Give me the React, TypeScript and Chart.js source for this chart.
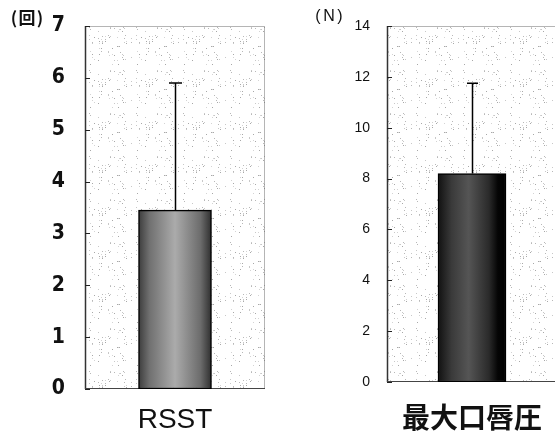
import React, { useEffect, useRef } from "react";
import { Chart, registerables } from "chart.js";

Chart.register(...registerables);

// ---- data ----
const leftCategories = ["RSST"];
const leftMeans = [3.45];
const leftSD = [2.45];
const leftUnit = ["(", "回", ")"];
const leftMax = 7;
const leftStep = 1;

const rightCategories = ["最大口唇圧"];
const rightMeans = [8.2];
const rightSD = [3.55];
const rightUnit = ["(", "N", ")"];
const rightMax = 14;
const rightStep = 2;

const NUM_FONT = "'Liberation Sans Narrow', 'DejaVu Sans Condensed', 'Liberation Sans', Arial, sans-serif";
const SANS = "'Liberation Sans', Arial, sans-serif";
const CJK = "'Noto Sans CJK JP', 'Noto Sans CJK SC', sans-serif";

let patternCache: CanvasPattern | null = null;
function getPattern(ctx: CanvasRenderingContext2D) {
  if (patternCache) return patternCache;
  const W = 47;
  const H = 43;
  const c = document.createElement("canvas");
  c.width = W;
  c.height = H;
  const p = c.getContext("2d")!;
  p.fillStyle = "#ffffff";
  p.fillRect(0, 0, W, H);
  const shades = ["#a8a8a8", "#c8c8c8", "#b8b8b8", "#d4d4d4"];
  for (let i = 0; i < 70; i++) {
    const x = (i * 37 + i * i * 13 + 5) % W;
    const y = (i * 23 + i * i * 7 + 11) % H;
    p.fillStyle = shades[(i * 5) % 4];
    p.fillRect(x, y, 1, 1);
  }
  patternCache = ctx.createPattern(c, "repeat");
  return patternCache;
}

const decorPlugin = {
  id: "decor",
  beforeDatasetsDraw(chart: any) {
    const { ctx, chartArea: a } = chart;
    ctx.save();
    ctx.fillStyle = getPattern(ctx) || "#fafafa";
    ctx.fillRect(a.left, a.top, a.right - a.left, a.bottom - a.top);
    // dotted frame
    ctx.strokeStyle = "#6a6a6a";
    ctx.lineWidth = 1;
    ctx.setLineDash([1, 1]);
    ctx.strokeRect(a.left + 0.5, a.top + 0.5, a.right - a.left - 1, a.bottom - a.top - 1);
    ctx.setLineDash([]);
    ctx.strokeStyle = "#333";
    ctx.lineWidth = 1.5;
    ctx.beginPath();
    ctx.moveTo(a.left + 0.5, a.top);
    ctx.lineTo(a.left + 0.5, a.bottom);
    ctx.stroke();
    ctx.strokeStyle = "#444";
    ctx.lineWidth = 1.2;
    ctx.beginPath();
    ctx.moveTo(a.left, a.bottom - 0.5);
    ctx.lineTo(a.right, a.bottom - 0.5);
    ctx.stroke();
    // inward ticks
    const ys = chart.scales.y;
    ctx.strokeStyle = "#222";
    ctx.lineWidth = 1;
    ys.ticks.forEach((t: any) => {
      const py = Math.round(ys.getPixelForValue(t.value)) + 0.5;
      ctx.beginPath();
      ctx.moveTo(a.left, py);
      ctx.lineTo(a.left + 5, py);
      ctx.stroke();
    });
    ctx.restore();
  },
  afterDatasetsDraw(chart: any) {
    const { ctx } = chart;
    const opts = chart.options.plugins.decor;
    const ys = chart.scales.y;
    const meta = chart.getDatasetMeta(0);
    ctx.save();
    ctx.strokeStyle = "#000";
    ctx.lineWidth = 1.5;
    meta.data.forEach((bar: any, i: number) => {
      const top = ys.getPixelForValue(opts.means[i] + opts.sd[i]);
      const x = Math.round(bar.x) + 0.5;
      ctx.beginPath();
      ctx.moveTo(x, bar.y);
      ctx.lineTo(x, top);
      ctx.moveTo(x - opts.cap / 2, top);
      ctx.lineTo(x + opts.cap / 2, top);
      ctx.stroke();
    });
    // unit label, drawn piece by piece
    ctx.fillStyle = "#111";
    ctx.font = opts.unitFont;
    ctx.textAlign = "center";
    ctx.textBaseline = "middle";
    opts.unit.forEach((s: string, i: number) => {
      ctx.fillText(s, opts.unitXs[i], opts.unitY);
    });
    ctx.restore();
  },
};

function makeGradient(stops: [number, string][], thickness: number) {
  return (context: any) => {
    const chart = context.chart;
    const xs = chart.scales && chart.scales.x;
    if (!chart.chartArea || !xs) return stops[2][1];
    const cx = xs.getPixelForValue(context.dataIndex ?? 0);
    if (!isFinite(cx)) return stops[2][1];
    const half = thickness / 2;
    const g = chart.ctx.createLinearGradient(cx - half, 0, cx + half, 0);
    stops.forEach(([o, c]) => g.addColorStop(o, c));
    return g;
  };
}

function buildConfig(p: any) {
  return {
    type: "bar",
    data: {
      labels: p.labels,
      datasets: [
        {
          data: p.means,
          backgroundColor: makeGradient(p.stops, p.barThickness),
          borderColor: "#000",
          borderWidth: 1.5,
          borderSkipped: false,
          barThickness: p.barThickness,
        },
      ],
    },
    options: {
      responsive: false,
      animation: false,
      devicePixelRatio: 1,
      layout: { padding: { top: 26, right: p.padRight, left: 0, bottom: 0 } },
      plugins: {
        legend: { display: false },
        tooltip: { enabled: false },
        decor: {
          means: p.means,
          sd: p.sd,
          cap: p.cap,
          unit: p.unit,
          unitFont: p.unitFont,
          unitXs: p.unitXs,
          unitY: p.unitY,
        },
      },
      scales: {
        x: {
          grid: { display: false, drawTicks: false },
          border: { display: false },
          ticks: { color: "#111", font: p.catFont, padding: p.catPad, maxRotation: 0 },
          afterFit: (s: any) => {
            s.height = p.xHeight;
            s.paddingLeft = 0;
            s.paddingRight = 0;
          },
        },
        y: {
          min: 0,
          max: p.max,
          grid: { display: false, drawTicks: false },
          border: { display: false },
          ticks: { stepSize: p.step, color: "#111", font: p.numFont, padding: p.numPad },
          afterFit: (s: any) => {
            s.width = p.yWidth;
            s.paddingTop = 0;
            s.paddingBottom = 0;
          },
        },
      },
    },
    plugins: [decorPlugin],
  };
}

function BarChart({ cfg, width, height }: any) {
  const ref = useRef<HTMLCanvasElement>(null);
  useEffect(() => {
    const chart = new Chart(ref.current as HTMLCanvasElement, buildConfig(cfg) as any);
    return () => chart.destroy();
  }, []);
  return <canvas ref={ref} width={width} height={height} style={{ width, height, display: "block" }} />;
}

export default function App() {
  const leftCfg = {
    labels: leftCategories,
    means: leftMeans,
    sd: leftSD,
    max: leftMax,
    step: leftStep,
    unit: leftUnit,
    unitFont: `bold 17px ${CJK}`,
    unitXs: [14, 27, 40],
    unitY: 18,
    stops: [
      [0, "#3c3c3c"],
      [0.15, "#707070"],
      [0.5, "#ababab"],
      [0.85, "#6c6c6c"],
      [1, "#2e2e2e"],
    ],
    barThickness: 73,
    cap: 13,
    padRight: 15,
    xHeight: 47,
    yWidth: 85,
    numFont: { family: NUM_FONT, size: 21, weight: "bold" },
    numPad: 20,
    catFont: { family: SANS, size: 28, weight: "normal" },
    catPad: 14,
  };
  const rightCfg = {
    labels: rightCategories,
    means: rightMeans,
    sd: rightSD,
    max: rightMax,
    step: rightStep,
    unit: rightUnit,
    unitFont: `16px ${SANS}`,
    unitXs: [38, 49, 60],
    unitY: 17,
    stops: [
      [0, "#111111"],
      [0.2, "#3a3a3a"],
      [0.45, "#555555"],
      [0.75, "#2a2a2a"],
      [0.88, "#050505"],
      [1, "#000000"],
    ],
    barThickness: 68,
    cap: 11,
    padRight: 0,
    xHeight: 54,
    yWidth: 107,
    numFont: { family: SANS, size: 14, weight: "normal" },
    numPad: 17,
    catFont: { family: CJK, size: 28, weight: "bold" },
    catPad: 19,
  };
  return (
    <div
      style={{
        position: "fixed",
        left: 0,
        top: 0,
        width: 555,
        height: 436,
        overflow: "hidden",
        background: "#fff",
      }}
    >
      <div style={{ position: "absolute", left: 0, top: 0 }}>
        <BarChart cfg={leftCfg} width={280} height={436} />
      </div>
      <div style={{ position: "absolute", left: 280, top: 0 }}>
        <BarChart cfg={rightCfg} width={277} height={436} />
      </div>
    </div>
  );
}
